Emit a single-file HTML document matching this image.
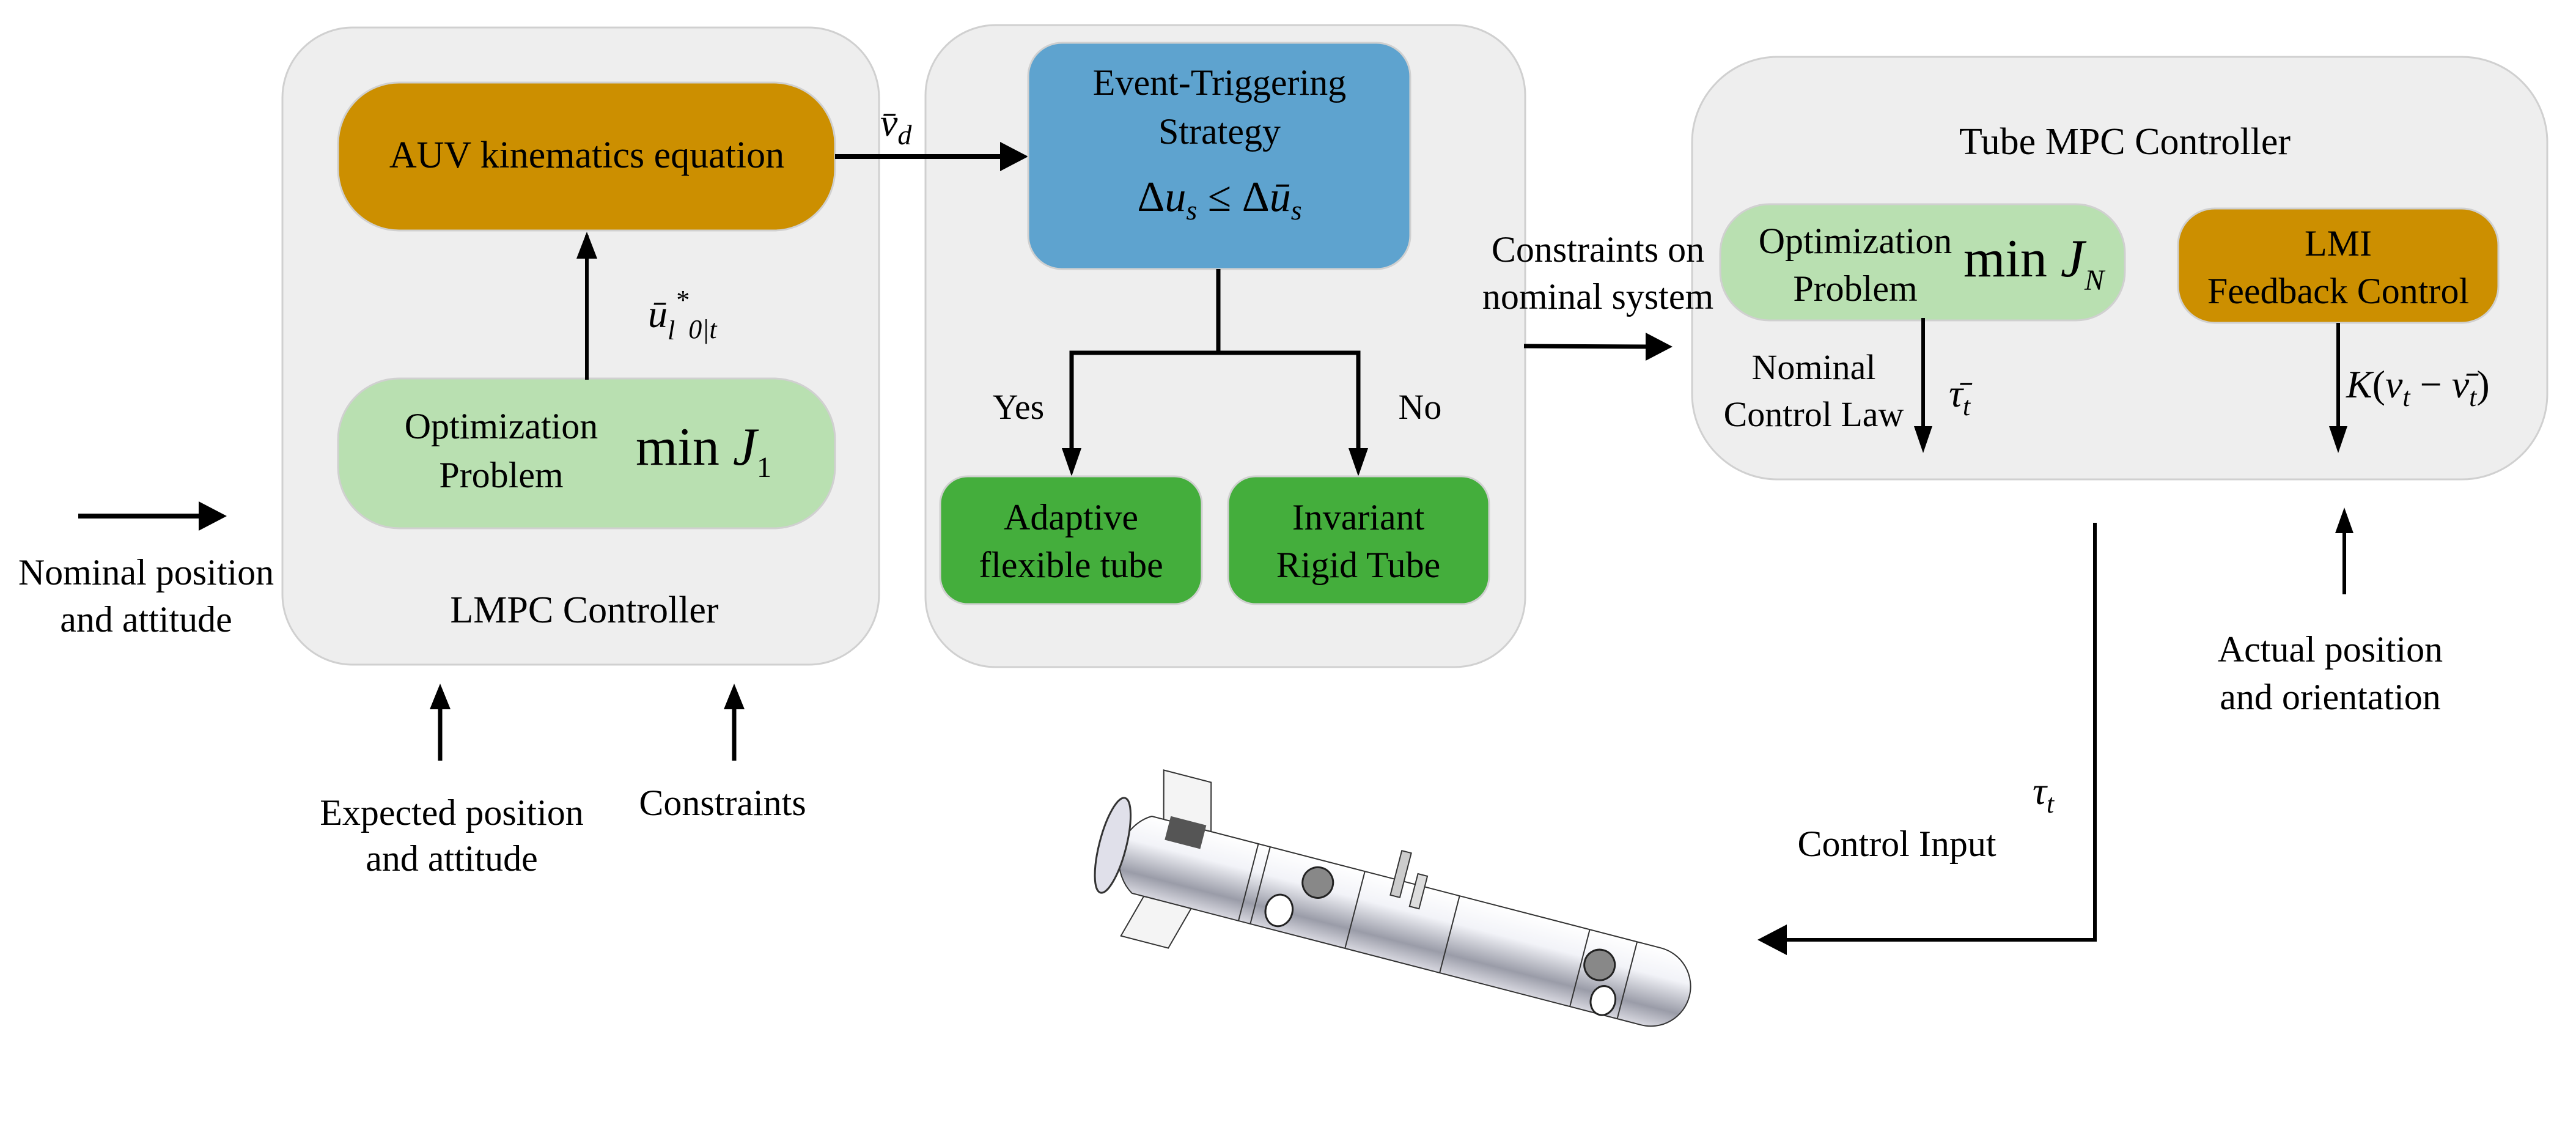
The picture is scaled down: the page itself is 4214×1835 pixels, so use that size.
<!DOCTYPE html>
<html><head><meta charset="utf-8"><style>
html,body{margin:0;padding:0;background:#fff;}
svg{display:block;font-family:"Liberation Serif","DejaVu Serif",serif;}
svg text{font-family:"Liberation Serif","DejaVu Serif",serif;fill:#000;}
</style></head><body>
<svg width="4214" height="1835" viewBox="0 0 4214 1835" xmlns="http://www.w3.org/2000/svg" font-family="Liberation Serif, DejaVu Serif, serif">
<defs>
<linearGradient id="body" x1="0" y1="0" x2="0" y2="1">
<stop offset="0" stop-color="#ffffff"/><stop offset="0.35" stop-color="#f2f3f8"/><stop offset="0.75" stop-color="#9a9ca8"/><stop offset="1" stop-color="#d8d8e0"/></linearGradient>
</defs>
<!-- big containers -->
<rect x="462" y="45" width="976" height="1042" rx="115" fill="#eeeeee" stroke="#d0d0d0" stroke-width="3"/>
<rect x="1514" y="41" width="981" height="1050" rx="115" fill="#eeeeee" stroke="#d0d0d0" stroke-width="3"/>
<rect x="2768" y="93" width="1399" height="691" rx="140" fill="#eeeeee" stroke="#d0d0d0" stroke-width="3"/>

<!-- LMPC -->
<rect x="553" y="135" width="813" height="242" rx="100" fill="#cc8f00" stroke="#d0d0d0" stroke-width="3"/>
<text x="960" y="274" font-size="62" text-anchor="middle">AUV kinematics equation</text>
<rect x="553" y="619" width="813" height="245" rx="100" fill="#b9e0b1" stroke="#d0d0d0" stroke-width="3"/>
<text x="820" y="717" font-size="60" text-anchor="middle">Optimization</text>
<text x="820" y="797" font-size="60" text-anchor="middle">Problem</text>
<text x="1040" y="760" font-size="88">min <tspan font-style="italic">J</tspan><tspan font-size="48" dy="20">1</tspan></text>
<line x1="960" y1="621" x2="960" y2="385" stroke="#000" stroke-width="6"/>
<path d="M960,379 L943,423 L977,423 Z" fill="#000"/>
<text x="1060" y="535" font-size="64" font-style="italic">ū<tspan font-size="44" dy="20">l</tspan><tspan font-size="44" dy="-50">*</tspan><tspan font-size="44" dy="48">0|t</tspan></text>
<text x="956" y="1018" font-size="62" text-anchor="middle">LMPC Controller</text>

<!-- AUV -> event -->
<line x1="1366" y1="256" x2="1640" y2="256" stroke="#000" stroke-width="8"/>
<path d="M1682,256 L1636,232 L1636,280 Z" fill="#000"/>
<text x="1440" y="222" font-size="64" font-style="italic">v̄<tspan font-size="46" dy="14">d</tspan></text>

<!-- Event box -->
<rect x="1682" y="70" width="625" height="370" rx="55" fill="#5ea3cf" stroke="#d0d0d0" stroke-width="3"/>
<text x="1995" y="155" font-size="60" text-anchor="middle">Event-Triggering</text>
<text x="1995" y="235" font-size="60" text-anchor="middle">Strategy</text>
<text x="1995" y="345" font-size="70" text-anchor="middle">Δ<tspan font-style="italic">u</tspan><tspan font-size="46" font-style="italic" dy="14">s</tspan><tspan dy="-14"> ≤ Δ</tspan><tspan font-style="italic">ū</tspan><tspan font-size="46" font-style="italic" dy="14">s</tspan></text>
<polyline points="1993,440 1993,577" fill="none" stroke="#000" stroke-width="7"/>
<polyline points="1753,737 1753,577 2222,577 2222,737" fill="none" stroke="#000" stroke-width="7"/>
<path d="M1753,779 L1737,733 L1769,733 Z" fill="#000"/>
<path d="M2222,779 L2206,733 L2238,733 Z" fill="#000"/>
<text x="1666" y="685" font-size="58" text-anchor="middle">Yes</text>
<text x="2323" y="685" font-size="58" text-anchor="middle">No</text>
<rect x="1538" y="779" width="428" height="209" rx="45" fill="#44ae3c" stroke="#d0d0d0" stroke-width="3"/>
<rect x="2009" y="779" width="427" height="209" rx="45" fill="#44ae3c" stroke="#d0d0d0" stroke-width="3"/>
<text x="1752" y="866" font-size="60" text-anchor="middle">Adaptive</text>
<text x="1752" y="944" font-size="60" text-anchor="middle">flexible tube</text>
<text x="2222" y="866" font-size="60" text-anchor="middle">Invariant</text>
<text x="2222" y="944" font-size="60" text-anchor="middle">Rigid Tube</text>

<!-- left input -->
<line x1="128" y1="844" x2="330" y2="844" stroke="#000" stroke-width="8"/>
<path d="M371,844 L325,820 L325,868 Z" fill="#000"/>
<text x="239" y="956" font-size="60" text-anchor="middle">Nominal position</text>
<text x="239" y="1033" font-size="60" text-anchor="middle">and attitude</text>

<!-- bottom inputs -->
<line x1="720" y1="1244" x2="720" y2="1150" stroke="#000" stroke-width="7"/>
<path d="M720,1118 L703,1160 L737,1160 Z" fill="#000"/>
<line x1="1201" y1="1244" x2="1201" y2="1150" stroke="#000" stroke-width="7"/>
<path d="M1201,1118 L1184,1160 L1218,1160 Z" fill="#000"/>
<text x="739" y="1349" font-size="60" text-anchor="middle">Expected position</text>
<text x="739" y="1424" font-size="60" text-anchor="middle">and attitude</text>
<text x="1182" y="1333" font-size="60" text-anchor="middle">Constraints</text>

<!-- constraints on nominal -->
<text x="2614" y="428" font-size="60" text-anchor="middle">Constraints on</text>
<text x="2614" y="505" font-size="60" text-anchor="middle">nominal system</text>
<line x1="2493" y1="566" x2="2700" y2="567" stroke="#000" stroke-width="7"/>
<path d="M2736,567 L2692,544 L2692,590 Z" fill="#000"/>

<!-- tube MPC -->
<text x="3476" y="252" font-size="62" text-anchor="middle">Tube MPC Controller</text>
<rect x="2814" y="334" width="662" height="190" rx="80" fill="#b9e0b1" stroke="#d0d0d0" stroke-width="3"/>
<text x="3035" y="414" font-size="60" text-anchor="middle">Optimization</text>
<text x="3035" y="492" font-size="60" text-anchor="middle">Problem</text>
<text x="3212" y="452" font-size="88">min <tspan font-style="italic">J</tspan><tspan font-size="48" font-style="italic" dy="22">N</tspan></text>
<rect x="3563" y="341" width="524" height="187" rx="60" fill="#cc8f00" stroke="#d0d0d0" stroke-width="3"/>
<text x="3825" y="418" font-size="60" text-anchor="middle">LMI</text>
<text x="3825" y="496" font-size="60" text-anchor="middle">Feedback Control</text>
<line x1="3146" y1="520" x2="3146" y2="705" stroke="#000" stroke-width="6"/>
<path d="M3146,741 L3131,697 L3161,697 Z" fill="#000"/>
<text x="2967" y="620" font-size="58" text-anchor="middle">Nominal</text>
<text x="2967" y="697" font-size="58" text-anchor="middle">Control Law</text>
<text x="3188" y="665" font-size="64" font-style="italic">τ̄<tspan font-size="44" dy="14">t</tspan></text>
<line x1="3825" y1="528" x2="3825" y2="705" stroke="#000" stroke-width="6"/>
<path d="M3825,741 L3810,697 L3840,697 Z" fill="#000"/>
<text x="3838" y="650" font-size="64"><tspan font-style="italic">K</tspan>(<tspan font-style="italic">ν</tspan><tspan font-size="44" font-style="italic" dy="14">t</tspan><tspan dy="-14"> − </tspan><tspan font-style="italic">ν̄</tspan><tspan font-size="44" font-style="italic" dy="14">t</tspan><tspan dy="-14">)</tspan></text>

<!-- right feedback -->
<line x1="3835" y1="972" x2="3835" y2="865" stroke="#000" stroke-width="6"/>
<path d="M3835,830 L3820,872 L3850,872 Z" fill="#000"/>
<text x="3812" y="1082" font-size="60" text-anchor="middle">Actual position</text>
<text x="3812" y="1160" font-size="60" text-anchor="middle">and orientation</text>

<!-- control input -->
<polyline points="3427,855 3427,1537 2920,1537" fill="none" stroke="#000" stroke-width="6"/>
<path d="M2875,1537 L2923,1512 L2923,1562 Z" fill="#000"/>
<text x="3103" y="1400" font-size="60" text-anchor="middle">Control Input</text>
<text x="3325" y="1315" font-size="64" font-style="italic">τ<tspan font-size="44" dy="14">t</tspan></text>

<!-- AUV drawing -->
<g transform="translate(1830,1385) rotate(14.5)">
  <path d="M40,-62 L900,-62 A65,65 0 0 1 900,68 L40,68 Q10,50 0,3 Q10,-45 40,-62 Z" fill="url(#body)" stroke="#333" stroke-width="2"/>
  <ellipse cx="-10" cy="0" rx="22" ry="80" fill="#e0e0ea" stroke="#333" stroke-width="3"/>
  <path d="M60,-62 L40,-140 L120,-140 L140,-62 Z" fill="#f4f4f4" stroke="#333" stroke-width="2"/>
  <path d="M60,68 L40,140 L120,140 L140,68 Z" fill="#f4f4f4" stroke="#333" stroke-width="2"/>
  <rect x="70" y="-70" width="60" height="40" fill="#555"/>
  <line x1="220" y1="-62" x2="220" y2="68" stroke="#333" stroke-width="2"/>
  <line x1="240" y1="-62" x2="240" y2="68" stroke="#333" stroke-width="2"/>
  <line x1="400" y1="-62" x2="400" y2="68" stroke="#333" stroke-width="2"/>
  <line x1="560" y1="-62" x2="560" y2="68" stroke="#333" stroke-width="2"/>
  <line x1="780" y1="-62" x2="780" y2="68" stroke="#333" stroke-width="2"/>
  <line x1="860" y1="-62" x2="860" y2="68" stroke="#333" stroke-width="2"/>
  <circle cx="330" cy="-25" r="25" fill="#888" stroke="#222" stroke-width="3"/>
  <circle cx="810" cy="-10" r="25" fill="#888" stroke="#222" stroke-width="3"/>
  <ellipse cx="280" cy="35" rx="22" ry="26" fill="#fff" stroke="#222" stroke-width="3"/>
  <ellipse cx="830" cy="45" rx="20" ry="24" fill="#fff" stroke="#222" stroke-width="3"/>
  <rect x="450" y="-110" width="16" height="75" fill="#ccc" stroke="#333" stroke-width="2"/>
  <rect x="485" y="-80" width="16" height="55" fill="#ddd" stroke="#333" stroke-width="2"/>
</g>
</svg>
</body></html>
